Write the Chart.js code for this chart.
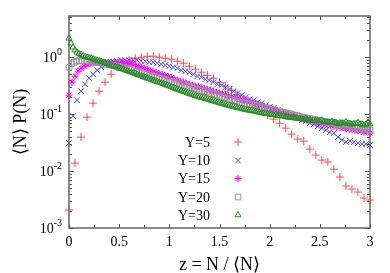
<!DOCTYPE html>
<html>
  <head>
    <meta charset="utf-8" />
    <script src="https://cdn.jsdelivr.net/npm/chart.js@4.4.1/dist/chart.umd.min.js"></script>
    <style>
      body { margin: 0; background: #fff; }
      #wrap { width: 390px; height: 273px; }
    </style>
  </head>
  <body>
    <div id="wrap"><canvas id="dist"></canvas></div>
    <script>
      // spacing in z between neighbouring points of each series
      const step5 = 0.06, step10 = 0.04, step15 = 0.03, step20 = 0.025, step30 = 0.02;

      const y5 = [0.00207, 0.0138, 0.0395, 0.0886, 0.156, 0.253, 0.364, 0.503, 0.668, 0.817,
        0.886, 0.96, 1.0, 1.04, 1.04, 1.0, 0.96, 0.922, 0.851, 0.785,
        0.695, 0.615, 0.545, 0.483, 0.428, 0.364, 0.310, 0.264, 0.216, 0.183,
        0.156, 0.133, 0.113, 0.096, 0.0817, 0.0695, 0.0568, 0.0446, 0.0364, 0.0336,
        0.0243, 0.0191, 0.0156, 0.0144, 0.0108, 0.00785, 0.00546, 0.00483, 0.00428, 0.00336, 0.0031];

      const y10 = [0.0310, 0.0923, 0.176, 0.253, 0.336, 0.428, 0.503, 0.591, 0.668, 0.724,
        0.785, 0.817, 0.851, 0.886, 0.886, 0.886, 0.886, 0.886, 0.851, 0.851,
        0.817, 0.817, 0.785, 0.754, 0.724, 0.695, 0.668, 0.641, 0.591, 0.568,
        0.545, 0.503, 0.464, 0.446, 0.411, 0.395, 0.364, 0.336, 0.323, 0.298,
        0.275, 0.253, 0.234, 0.216, 0.199, 0.183, 0.176, 0.162, 0.156, 0.144,
        0.133, 0.128, 0.118, 0.108, 0.104, 0.096, 0.0923, 0.0851, 0.0785, 0.0754,
        0.0695, 0.0668, 0.0615, 0.0568, 0.0524, 0.0483, 0.0464, 0.0395, 0.0350, 0.0323,
        0.0336, 0.0323, 0.0310, 0.0298, 0.0298, 0.0286];

      const y15 = [0.216, 0.364, 0.464, 0.568, 0.641, 0.695, 0.739, 0.769, 0.785, 0.801,
        0.817, 0.817, 0.817, 0.817, 0.817, 0.817, 0.817, 0.801, 0.785, 0.785,
        0.769, 0.754, 0.724, 0.695, 0.668, 0.641, 0.615, 0.580, 0.557, 0.535,
        0.514, 0.493, 0.474, 0.455, 0.437, 0.411, 0.395, 0.379, 0.364, 0.350,
        0.336, 0.323, 0.310, 0.304, 0.292, 0.281, 0.269, 0.264, 0.253, 0.243,
        0.234, 0.229, 0.220, 0.211, 0.203, 0.195, 0.191, 0.183, 0.176, 0.169,
        0.162, 0.156, 0.153, 0.147, 0.141, 0.135, 0.130, 0.125, 0.120, 0.115,
        0.111, 0.106, 0.102, 0.100, 0.096, 0.0923, 0.0886, 0.0851, 0.0817, 0.0801,
        0.0769, 0.0739, 0.0724, 0.0695, 0.0681, 0.0668, 0.0641, 0.0629, 0.0615, 0.0603,
        0.0591, 0.0568, 0.0557, 0.0545, 0.0535, 0.0524, 0.0514, 0.0503, 0.0483, 0.0503, 0.0464];

      const y20 = [0.668, 0.769, 0.817, 0.851, 0.868, 0.868, 0.868, 0.868, 0.851, 0.851,
        0.834, 0.817, 0.801, 0.801, 0.785, 0.754, 0.739, 0.724, 0.710, 0.695,
        0.695, 0.668, 0.655, 0.629, 0.615, 0.603, 0.580, 0.568, 0.545, 0.535,
        0.514, 0.503, 0.483, 0.474, 0.455, 0.446, 0.428, 0.420, 0.403, 0.395,
        0.379, 0.372, 0.357, 0.350, 0.336, 0.329, 0.316, 0.310, 0.298, 0.292,
        0.281, 0.275, 0.264, 0.259, 0.248, 0.243, 0.234, 0.229, 0.220, 0.216,
        0.207, 0.203, 0.195, 0.191, 0.183, 0.180, 0.172, 0.169, 0.162, 0.159,
        0.156, 0.153, 0.150, 0.147, 0.144, 0.141, 0.138, 0.133, 0.130, 0.128,
        0.122, 0.120, 0.118, 0.113, 0.111, 0.108, 0.106, 0.104, 0.102, 0.098,
        0.096, 0.094, 0.0904, 0.0886, 0.0868, 0.0851, 0.0834, 0.0817, 0.0801, 0.0785,
        0.0769, 0.0754, 0.0739, 0.0724, 0.0710, 0.0720, 0.0681, 0.0668, 0.0655, 0.0641,
        0.0645, 0.0615, 0.0603, 0.0591, 0.0580, 0.0568, 0.0557, 0.0545, 0.0535, 0.0524, 0.0524];

      const y30 = [2.15, 1.76, 1.50, 1.33, 1.22, 1.15, 1.11, 1.06, 1.02, 1.00,
        0.980, 0.960, 0.930, 0.904, 0.886, 0.861, 0.841, 0.817, 0.791, 0.769,
        0.748, 0.727, 0.707, 0.687, 0.668, 0.649, 0.631, 0.613, 0.594, 0.577,
        0.561, 0.545, 0.528, 0.514, 0.497, 0.483, 0.468, 0.455, 0.440, 0.428,
        0.416, 0.405, 0.393, 0.382, 0.372, 0.361, 0.351, 0.341, 0.331, 0.320,
        0.310, 0.300, 0.290, 0.281, 0.273, 0.266, 0.257, 0.250, 0.243, 0.235,
        0.229, 0.222, 0.216, 0.210, 0.205, 0.200, 0.196, 0.192, 0.187, 0.183,
        0.178, 0.174, 0.170, 0.166, 0.162, 0.158, 0.155, 0.151, 0.147, 0.144,
        0.141, 0.138, 0.135, 0.133, 0.130, 0.128, 0.125, 0.122, 0.120, 0.118,
        0.116, 0.115, 0.113, 0.111, 0.109, 0.107, 0.105, 0.104, 0.102, 0.101,
        0.0996, 0.0984, 0.0968, 0.0990, 0.0940, 0.0930, 0.0919, 0.0940, 0.0897, 0.0882,
        0.0872, 0.0861, 0.0880, 0.0844, 0.0834, 0.0827, 0.0820, 0.0811, 0.0830, 0.0798,
        0.0788, 0.0760, 0.0772, 0.0766, 0.0760, 0.0754, 0.0780, 0.0739, 0.0730, 0.0724,
        0.0721, 0.0740, 0.0713, 0.0710, 0.0680, 0.0701, 0.0698, 0.0695, 0.0730, 0.0689,
        0.0684, 0.0660, 0.0679, 0.0676, 0.0710, 0.0670, 0.0668, 0.0640, 0.0668, 0.0720, 0.0668];

      const seriesNames = ["Y=5", "Y=10", "Y=15", "Y=20", "Y=30"];
      const yTickVals = [0.001, 0.01, 0.1, 1];
      const yTickExps = ["-3", "-2", "-1", "0"];

      const serif = "'Liberation Serif', 'Times New Roman', Times, serif";

      function pts(vals, step) {
        return vals.map((v, i) => ({ x: i * step, y: v }));
      }

      const styles = [
        { pointStyle: "cross", color: "rgb(255,70,70)", radius: 4 },
        { pointStyle: "crossRot", color: "rgb(70,70,255)", radius: 4 },
        { pointStyle: "star", color: "rgb(255,0,255)", radius: 3.5 },
        { pointStyle: "rect", color: "rgb(150,150,150)", radius: 4 },
        { pointStyle: "triangle", color: "rgb(40,140,40)", radius: 3.5 },
      ];
      const allData = [pts(y5, step5), pts(y10, step10), pts(y15, step15), pts(y20, step20), pts(y30, step30)];

      const datasets = allData.map((d, k) => ({
        label: seriesNames[k],
        data: d,
        showLine: false,
        pointStyle: styles[k].pointStyle,
        pointRadius: styles[k].radius,
        pointBorderWidth: 1,
        borderColor: styles[k].color,
        backgroundColor: "rgba(0,0,0,0)",
        clip: false,
        order: 5 - k,
      }));

      function drawMarker(ctx, st, x, y) {
        ctx.save();
        ctx.strokeStyle = st.color;
        ctx.fillStyle = "rgba(0,0,0,0)";
        ctx.lineWidth = 1;
        Chart.helpers.drawPoint(ctx, { pointStyle: st.pointStyle, radius: st.radius, rotation: 0, borderWidth: 1 }, x, y);
        ctx.restore();
      }

      const framePlugin = {
        id: "frame",
        beforeDatasetsDraw(chart) {
          const { ctx, chartArea: a, scales } = chart;
          const x = scales.x, y = scales.y;
          ctx.save();
          ctx.strokeStyle = "#555";
          ctx.lineWidth = 1;
          ctx.beginPath();
          for (let v = 0; v <= 3.001; v += 0.25) {
            const px = Math.round(x.getPixelForValue(v)) + 0.5;
            const len = Math.abs(v * 2 - Math.round(v * 2)) < 1e-6 ? 4 : 3;
            ctx.moveTo(px, a.bottom); ctx.lineTo(px, a.bottom - len);
            ctx.moveTo(px, a.top); ctx.lineTo(px, a.top + len);
          }
          for (let d = -3; d <= 0; d++) {
            for (let m = 1; m <= 9; m++) {
              const v = m * Math.pow(10, d);
              if (v > y.max) break;
              const py = Math.round(y.getPixelForValue(v)) + 0.5;
              const len = m === 1 ? 5 : 3;
              ctx.moveTo(a.left, py); ctx.lineTo(a.left + len, py);
              ctx.moveTo(a.right, py); ctx.lineTo(a.right - len, py);
            }
          }
          ctx.stroke();
          ctx.lineWidth = 1.5;
          ctx.strokeStyle = "#666";
          ctx.strokeRect(a.left, a.top, a.right - a.left, a.bottom - a.top);
          ctx.restore();
        },
        afterDraw(chart) {
          const { ctx, chartArea: a, scales } = chart;
          const y = scales.y;
          ctx.save();
          ctx.fillStyle = "#000";
          ctx.textBaseline = "middle";
          // y tick labels 10^n
          yTickVals.forEach((v, i) => {
            const py = y.getPixelForValue(v);
            ctx.font = "10px " + serif;
            const ew = ctx.measureText(yTickExps[i]).width;
            const right = a.left - 7;
            ctx.textAlign = "left";
            ctx.fillText(yTickExps[i], right - ew, py - 5);
            ctx.font = "14px " + serif;
            ctx.textAlign = "right";
            ctx.fillText("10", right - ew, py + 1);
          });
          // legend
          const rows = [142, 160.5, 178.5, 197, 215];
          ctx.font = "14px " + serif;
          ctx.textAlign = "right";
          seriesNames.forEach((name, k) => {
            ctx.fillText(name, 210, rows[k] + 1);
            drawMarker(ctx, styles[k], 238, rows[k]);
          });
          ctx.restore();
        },
      };

      new Chart(document.getElementById("dist"), {
        type: "scatter",
        data: { datasets: datasets },
        options: {
          responsive: true,
          maintainAspectRatio: false,
          animation: false,
          layout: { padding: { left: 0, right: 20, top: 16, bottom: 0 } },
          plugins: { legend: { display: false }, tooltip: { enabled: false } },
          scales: {
            x: {
              type: "linear",
              min: 0,
              max: 3,
              grid: { display: false, drawTicks: false },
              border: { display: false },
              ticks: { stepSize: 0.5, color: "#000", padding: 6, font: { family: serif, size: 14 }, callback: (v) => String(v) },
              title: { display: true, text: "z = N / \u27e8N\u27e9", color: "#000", font: { family: serif, size: 18 }, padding: { top: 0, bottom: -3 } },
              afterFit(scale) { scale.height = 45; },
            },
            y: {
              type: "logarithmic",
              min: 0.001,
              max: 5.3,
              grid: { display: false, drawTicks: false },
              border: { display: false },
              ticks: { display: false },
              title: { display: true, text: "\u27e8N\u27e9 P(N)", color: "#000", font: { family: serif, size: 18 }, padding: { top: 10, bottom: 0 } },
              afterFit(scale) { scale.width = 69; },
            },
          },
        },
        plugins: [framePlugin],
      });
    </script>
  </body>
</html>
